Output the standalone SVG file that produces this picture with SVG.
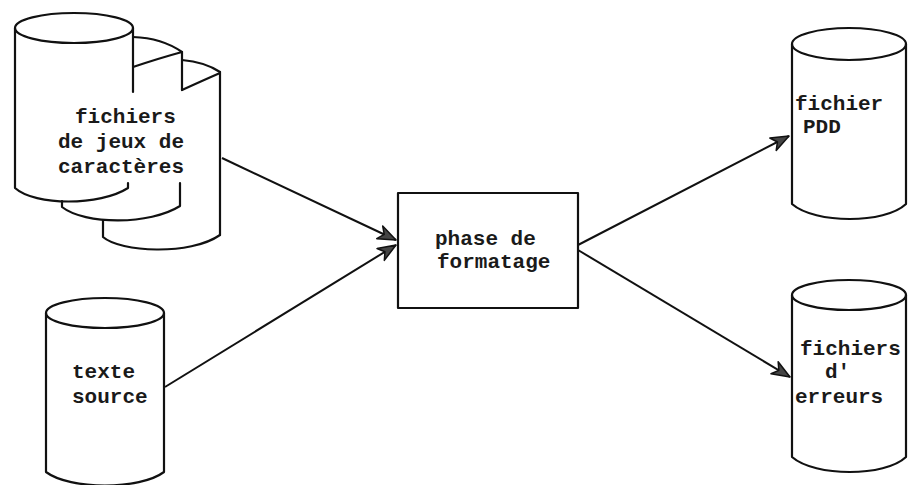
<svg xmlns="http://www.w3.org/2000/svg" width="908" height="485" viewBox="0 0 908 485">
<style>
.ln{fill:none;stroke:#111;stroke-width:2.2;stroke-linecap:round;stroke-linejoin:round}
.t{font-family:"Liberation Mono","Courier New",monospace;font-weight:bold;font-size:21px;fill:#1a1a1a}
.cn{fill:none;stroke:#111;stroke-width:2}
</style>
<defs>
<marker id="ah" markerUnits="userSpaceOnUse" markerWidth="22" markerHeight="18" refX="19" refY="8" orient="auto">
<path d="M1,1 L19,8 L1,15 L6,8 Z" fill="#444" stroke="#111" stroke-width="1.5" stroke-linejoin="round"/>
</marker>
</defs>
<rect width="908" height="485" fill="#fff"/>

<g id="connectors">
<path class="cn" d="M222,158 L396,240" marker-end="url(#ah)"/>
<path class="cn" d="M165,387 L396,245" marker-end="url(#ah)"/>
<path class="cn" d="M578,245 L789,136" marker-end="url(#ah)"/>
<path class="cn" d="M578,250 L790,377" marker-end="url(#ah)"/>
</g>

<g id="fichiers-jeux">
<path class="ln" d="M182,60 Q205,62 220,72"/>
<path class="ln" d="M182,90 Q204,80 220,73"/>
<path class="ln" d="M220,72 L220,235"/>
<path class="ln" d="M103,220 L103,237 C120,252 190,256 220,235"/>
<path class="ln" d="M133,37 Q162,38 182,52"/>
<path class="ln" d="M133,67 Q160,58 182,52"/>
<path class="ln" d="M182,52 L182,90"/>
<path class="ln" d="M180,183 L180,206 C150,225 85,225 62,207 L62,201"/>
<ellipse class="ln" cx="74" cy="28" rx="59" ry="15"/>
<path class="ln" d="M15,28 L15,188 C35,206 100,206 128,188 L128,183"/>
<path class="ln" d="M133,28 L133,92"/>
<text class="t" x="75" y="123">fichiers</text>
<text class="t" x="58" y="148">de jeux de</text>
<text class="t" x="58" y="173">caractères</text>
</g>

<g id="texte-source">
<ellipse class="ln" cx="105" cy="313" rx="59" ry="15"/>
<path class="ln" d="M46,313 L46,472 C70,490 140,490 164,472 L164,313"/>
<text class="t" x="72" y="378">texte</text>
<text class="t" x="72" y="403">source</text>
</g>

<g id="phase-formatage">
<rect class="ln" x="398" y="193" width="180" height="115"/>
<text class="t" x="435" y="245">phase de</text>
<text class="t" x="437" y="268">formatage</text>
</g>

<g id="fichier-pdd">
<ellipse class="ln" cx="849" cy="44" rx="57" ry="16"/>
<path class="ln" d="M792,44 L792,204 C815,224 885,224 906,204 L906,44"/>
<text class="t" x="795" y="110">fichier</text>
<text class="t" x="803" y="133">PDD</text>
</g>

<g id="fichiers-erreurs">
<ellipse class="ln" cx="849" cy="295" rx="57" ry="15"/>
<path class="ln" d="M792,295 L792,457 C815,477 885,477 906,457 L906,295"/>
<text class="t" x="800" y="355">fichiers</text>
<text class="t" x="825" y="378">d'</text>
<text class="t" x="795" y="403">erreurs</text>
</g>
</svg>
